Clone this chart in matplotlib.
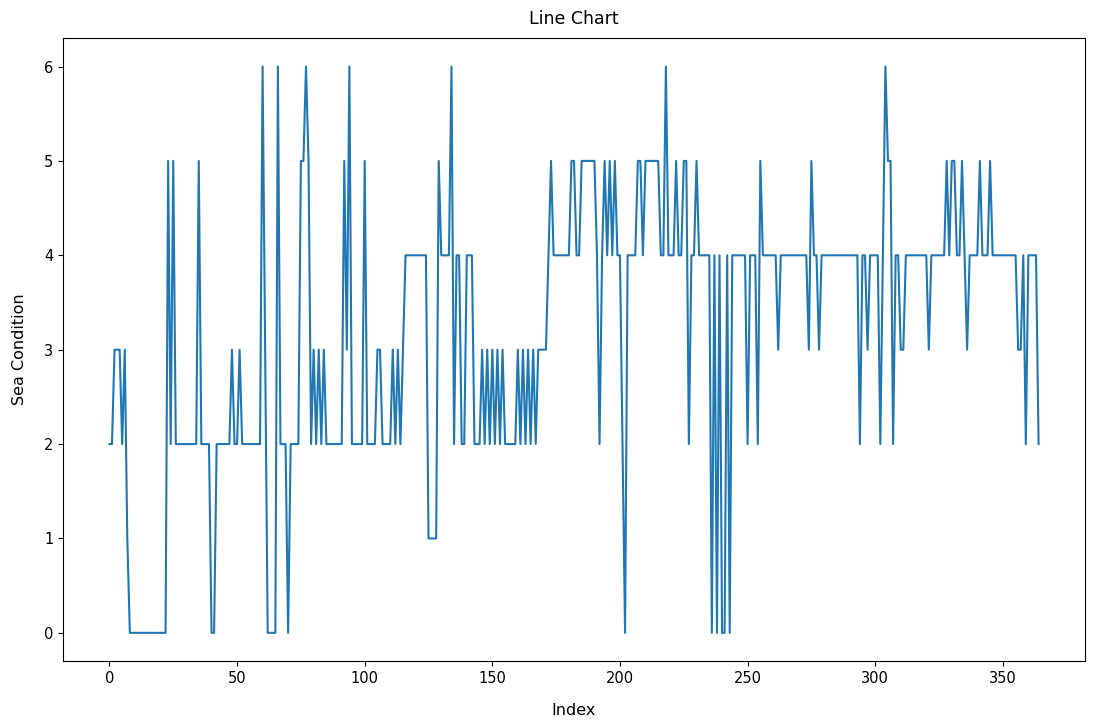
import matplotlib
matplotlib.use("Agg")
import matplotlib.pyplot as plt

sea_condition = [
    2, 2, 3, 3, 3, 2, 3, 1, 0, 0,          # 0-9
    0, 0, 0, 0, 0, 0, 0, 0, 0, 0,          # 10-19
    0, 0, 0, 5, 2, 5, 2, 2, 2, 2,          # 20-29
    2, 2, 2, 2, 2, 5, 2, 2, 2, 2,          # 30-39
    0, 0, 2, 2, 2, 2, 2, 2, 3, 2,          # 40-49
    2, 3, 2, 2, 2, 2, 2, 2, 2, 2,          # 50-59
    6, 3, 0, 0, 0, 0, 6, 2, 2, 2,          # 60-69
    0, 2, 2, 2, 2, 5, 5, 6, 5, 2,          # 70-79
    3, 2, 3, 2, 3, 2, 2, 2, 2, 2,          # 80-89
    2, 2, 5, 3, 6, 2, 2, 2, 2, 2,          # 90-99
    5, 2, 2, 2, 2, 3, 3, 2, 2, 2,          # 100-109
    2, 3, 2, 3, 2, 3, 4, 4, 4, 4,          # 110-119
    4, 4, 4, 4, 4, 1, 1, 1, 1, 5,          # 120-129
    4, 4, 4, 4, 6, 2, 4, 4, 2, 2,          # 130-139
    4, 4, 4, 2, 2, 2, 3, 2, 3, 2,          # 140-149
    3, 2, 3, 2, 3, 2, 2, 2, 2, 2,          # 150-159
    3, 2, 3, 2, 3, 2, 3, 2, 3, 3,          # 160-169
    3, 3, 4, 5, 4, 4, 4, 4, 4, 4,          # 170-179
    4, 5, 5, 4, 4, 5, 5, 5, 5, 5,          # 180-189
    5, 4, 2, 4, 5, 4, 5, 4, 5, 4,          # 190-199
    4, 2, 0, 4, 4, 4, 4, 5, 5, 4,          # 200-209
    5, 5, 5, 5, 5, 5, 4, 4, 6, 4,          # 210-219
    4, 4, 5, 4, 4, 5, 5, 2, 4, 4,          # 220-229
    5, 4, 4, 4, 4, 4, 0, 4, 0, 4,          # 230-239
    0, 0, 4, 0, 4, 4, 4, 4, 4, 4,          # 240-249
    2, 4, 4, 4, 2, 5, 4, 4, 4, 4,          # 250-259
    4, 4, 3, 4, 4, 4, 4, 4, 4, 4,          # 260-269
    4, 4, 4, 4, 3, 5, 4, 4, 3, 4,          # 270-279
    4, 4, 4, 4, 4, 4, 4, 4, 4, 4,          # 280-289
    4, 4, 4, 4, 2, 4, 4, 3, 4, 4,          # 290-299
    4, 4, 2, 4, 6, 5, 5, 2, 4, 4,          # 300-309
    3, 3, 4, 4, 4, 4, 4, 4, 4, 4,          # 310-319
    4, 3, 4, 4, 4, 4, 4, 4, 5, 4,          # 320-329
    5, 5, 4, 4, 5, 4, 3, 4, 4, 4,          # 330-339
    4, 5, 4, 4, 4, 5, 4, 4, 4, 4,          # 340-349
    4, 4, 4, 4, 4, 4, 3, 3, 4, 2,          # 350-359
    4, 4, 4, 4, 2,                         # 360-364
]
index = list(range(len(sea_condition)))

fig = plt.figure(figsize=(10.99, 7.21), dpi=100)
ax = fig.add_axes([0.0573, 0.083, 0.9300, 0.864])
ax.plot(index, sea_condition, color="#1f77b4", linewidth=1.5)
ax.set_title("Line Chart", fontsize=12.5, pad=10)
ax.set_xlabel("Index", fontsize=11.5, labelpad=12)
ax.set_ylabel("Sea Condition", fontsize=11.5, labelpad=12)
ax.tick_params(labelsize=10.5)
fig.savefig("out.png", dpi=100)
